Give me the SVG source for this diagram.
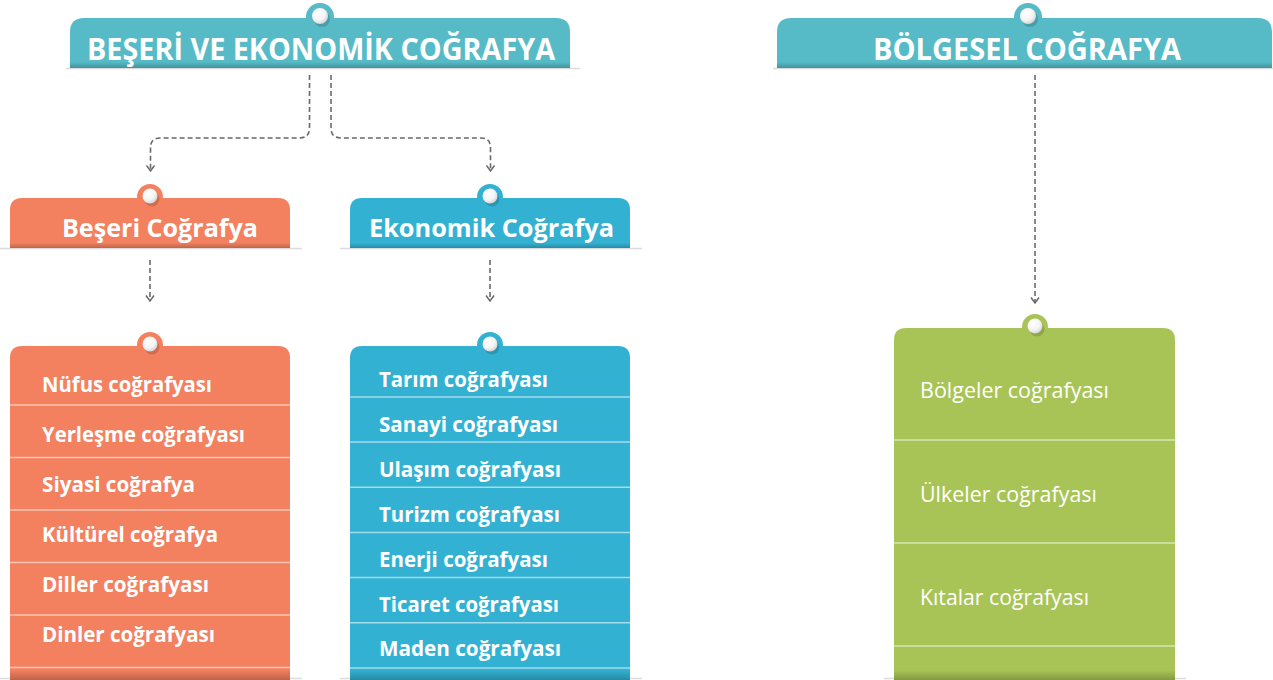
<svg xmlns="http://www.w3.org/2000/svg" width="1273" height="680" viewBox="0 0 1273 680">
<defs>
<style>
.hdr{font-family:"Open Sans","Liberation Sans",sans-serif;font-weight:700;fill:#fff;text-anchor:middle}
.item{font-family:"Open Sans","Liberation Sans",sans-serif;font-weight:700;font-size:21px;fill:#fff}
.gitem{font-family:"Open Sans","Liberation Sans",sans-serif;font-weight:400;font-size:22px;fill:#fff}
.sep{stroke:#fff;stroke-opacity:0.55;stroke-width:1.5}
.base{stroke:#dcdcdc;stroke-width:1.5}
.conn{fill:none;stroke:#6a6a6a;stroke-width:1.6;stroke-dasharray:5 3}
.teal{fill:#56bbc6}
.orange{fill:#f3805f}
.blue{fill:#33b1d2}
.green{fill:#a9c456}
</style>
<linearGradient id="shade" x1="0" y1="0" x2="0" y2="1">
<stop offset="0" stop-color="#000" stop-opacity="0"/>
<stop offset="1" stop-color="#000" stop-opacity="0.22"/>
</linearGradient>
<radialGradient id="dot" cx="0.4" cy="0.35" r="0.7">
<stop offset="0" stop-color="#ffffff"/>
<stop offset="0.6" stop-color="#f4f4f4"/>
<stop offset="1" stop-color="#cfcfcf"/>
</radialGradient>
<marker id="arr" markerUnits="userSpaceOnUse" markerWidth="10" markerHeight="10" viewBox="0 0 10 10" refX="9" refY="5" orient="auto">
<path d="M3.5,1 L9,5 L3.5,9" fill="none" stroke="#6a6a6a" stroke-width="1.5"/>
</marker>
</defs>
<rect width="1273" height="680" fill="#fff"/>

<g id="connectors">
<path class="conn" d="M309.5 75 V128 Q309.5 138 299.5 138 H160 Q150.5 138 150.5 148 V171" marker-end="url(#arr)"/>
<path class="conn" d="M331 75 V128 Q331 138 341 138 H481 Q490.5 138 490.5 148 V171" marker-end="url(#arr)"/>
<path class="conn" d="M150 260 V301" marker-end="url(#arr)"/>
<path class="conn" d="M490 260 V301" marker-end="url(#arr)"/>
<path class="conn" d="M1035 75 V303" marker-end="url(#arr)"/>
</g>

<g id="beseri-ekonomik">
<line class="base" x1="66" y1="68.5" x2="580" y2="68.5"/>
<path class="teal" d="M70 68 V32 Q70 18 84 18 H556 Q570 18 570 32 V68 Z"/>
<rect x="70" y="62" width="500" height="6" fill="url(#shade)"/>
<circle class="teal" cx="320" cy="17" r="14"/>
<circle cx="322" cy="19" r="8" fill="#000" fill-opacity="0.15"/>
<circle cx="320" cy="16" r="8" fill="url(#dot)"/>
<text class="hdr" x="321" y="60" font-size="30" textLength="468" lengthAdjust="spacingAndGlyphs">BEŞERİ VE EKONOMİK COĞRAFYA</text>
</g>

<g id="bolgesel">
<line class="base" x1="773" y1="68.5" x2="1273" y2="68.5"/>
<path class="teal" d="M777 68 V32 Q777 18 791 18 H1258 Q1272 18 1272 32 V68 Z"/>
<rect x="777" y="62" width="495" height="6" fill="url(#shade)"/>
<circle class="teal" cx="1028" cy="17" r="14"/>
<circle cx="1030" cy="19" r="8" fill="#000" fill-opacity="0.15"/>
<circle cx="1028" cy="16" r="8" fill="url(#dot)"/>
<text class="hdr" x="1027" y="60" font-size="30" textLength="308" lengthAdjust="spacingAndGlyphs">BÖLGESEL COĞRAFYA</text>
</g>

<g id="beseri">
<line class="base" x1="0" y1="248.5" x2="302" y2="248.5"/>
<path class="orange" d="M10 248 V210 Q10 198 22 198 H278 Q290 198 290 210 V248 Z"/>
<rect x="10" y="243" width="280" height="5" fill="url(#shade)"/>
<circle class="orange" cx="150" cy="197" r="13"/>
<circle cx="152" cy="199" r="7.5" fill="#000" fill-opacity="0.15"/>
<circle cx="150" cy="196" r="7.5" fill="url(#dot)"/>
<text class="hdr" x="160" y="237" font-size="25" textLength="196" lengthAdjust="spacingAndGlyphs">Beşeri Coğrafya</text>
</g>

<g id="ekonomik">
<line class="base" x1="340" y1="248.5" x2="642" y2="248.5"/>
<path class="blue" d="M350 248 V210 Q350 198 362 198 H618 Q630 198 630 210 V248 Z"/>
<rect x="350" y="243" width="280" height="5" fill="url(#shade)"/>
<circle class="blue" cx="490" cy="197" r="13"/>
<circle cx="492" cy="199" r="7.5" fill="#000" fill-opacity="0.15"/>
<circle cx="490" cy="196" r="7.5" fill="url(#dot)"/>
<text class="hdr" x="491.5" y="237" font-size="25" textLength="245" lengthAdjust="spacingAndGlyphs">Ekonomik Coğrafya</text>
</g>

<g id="beseri-list">
<line class="base" x1="0" y1="678.5" x2="302" y2="678.5"/>
<path class="orange" d="M10 680 V358 Q10 346 22 346 H278 Q290 346 290 358 V680 Z"/>
<rect x="10" y="670" width="280" height="10" fill="url(#shade)"/>
<circle class="orange" cx="150" cy="345" r="13"/>
<circle cx="152" cy="347" r="7.5" fill="#000" fill-opacity="0.15"/>
<circle cx="150" cy="344" r="7.5" fill="url(#dot)"/>
<line class="sep" x1="10" y1="405" x2="290" y2="405"/>
<line class="sep" x1="10" y1="457.5" x2="290" y2="457.5"/>
<line class="sep" x1="10" y1="510" x2="290" y2="510"/>
<line class="sep" x1="10" y1="562.5" x2="290" y2="562.5"/>
<line class="sep" x1="10" y1="615" x2="290" y2="615"/>
<line class="sep" x1="10" y1="667.5" x2="290" y2="667.5"/>
<text class="item" x="42" y="392" textLength="170" lengthAdjust="spacingAndGlyphs">Nüfus coğrafyası</text>
<text class="item" x="42" y="442" textLength="203" lengthAdjust="spacingAndGlyphs">Yerleşme coğrafyası</text>
<text class="item" x="42" y="492" textLength="153" lengthAdjust="spacingAndGlyphs">Siyasi coğrafya</text>
<text class="item" x="42" y="542" textLength="176" lengthAdjust="spacingAndGlyphs">Kültürel coğrafya</text>
<text class="item" x="42" y="592" textLength="167" lengthAdjust="spacingAndGlyphs">Diller coğrafyası</text>
<text class="item" x="42" y="642" textLength="173" lengthAdjust="spacingAndGlyphs">Dinler coğrafyası</text>
</g>

<g id="ekonomik-list">
<line class="base" x1="340" y1="678.5" x2="642" y2="678.5"/>
<path class="blue" d="M350 680 V358 Q350 346 362 346 H618 Q630 346 630 358 V680 Z"/>
<rect x="350" y="670" width="280" height="10" fill="url(#shade)"/>
<circle class="blue" cx="490" cy="345" r="13"/>
<circle cx="492" cy="347" r="7.5" fill="#000" fill-opacity="0.15"/>
<circle cx="490" cy="344" r="7.5" fill="url(#dot)"/>
<line class="sep" x1="350" y1="397" x2="630" y2="397"/>
<line class="sep" x1="350" y1="442" x2="630" y2="442"/>
<line class="sep" x1="350" y1="487.2" x2="630" y2="487.2"/>
<line class="sep" x1="350" y1="532.4" x2="630" y2="532.4"/>
<line class="sep" x1="350" y1="577.6" x2="630" y2="577.6"/>
<line class="sep" x1="350" y1="622.8" x2="630" y2="622.8"/>
<line class="sep" x1="350" y1="668" x2="630" y2="668"/>
<text class="item" x="379" y="387" textLength="169" lengthAdjust="spacingAndGlyphs">Tarım coğrafyası</text>
<text class="item" x="379" y="432" textLength="179" lengthAdjust="spacingAndGlyphs">Sanayi coğrafyası</text>
<text class="item" x="379" y="477" textLength="182" lengthAdjust="spacingAndGlyphs">Ulaşım coğrafyası</text>
<text class="item" x="379" y="522" textLength="181" lengthAdjust="spacingAndGlyphs">Turizm coğrafyası</text>
<text class="item" x="379" y="567" textLength="169" lengthAdjust="spacingAndGlyphs">Enerji coğrafyası</text>
<text class="item" x="379" y="612" textLength="180" lengthAdjust="spacingAndGlyphs">Ticaret coğrafyası</text>
<text class="item" x="379" y="656" textLength="182" lengthAdjust="spacingAndGlyphs">Maden coğrafyası</text>
</g>

<g id="bolgesel-list">
<line class="base" x1="884" y1="678.5" x2="1186" y2="678.5"/>
<path class="green" d="M894 680 V340 Q894 328 906 328 H1163 Q1175 328 1175 340 V680 Z"/>
<rect x="894" y="670" width="281" height="10" fill="url(#shade)"/>
<circle class="green" cx="1035" cy="327" r="13"/>
<circle cx="1037" cy="329" r="7.5" fill="#000" fill-opacity="0.15"/>
<circle cx="1035" cy="326" r="7.5" fill="url(#dot)"/>
<line class="sep" x1="894" y1="440" x2="1175" y2="440"/>
<line class="sep" x1="894" y1="543" x2="1175" y2="543"/>
<line class="sep" x1="894" y1="646" x2="1175" y2="646"/>
<text class="gitem" x="920" y="398" textLength="189" lengthAdjust="spacingAndGlyphs">Bölgeler coğrafyası</text>
<text class="gitem" x="920" y="502" textLength="177" lengthAdjust="spacingAndGlyphs">Ülkeler coğrafyası</text>
<text class="gitem" x="920" y="605" textLength="169" lengthAdjust="spacingAndGlyphs">Kıtalar coğrafyası</text>
</g>
</svg>
